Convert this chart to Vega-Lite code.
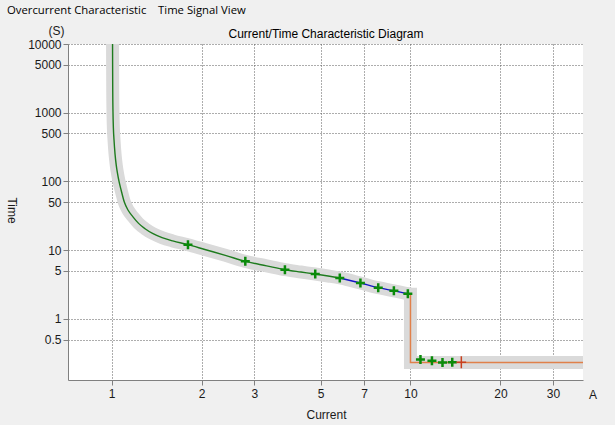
{
  "$schema": "https://vega.github.io/schema/vega-lite/v6.json",
  "width": 515,
  "height": 336,
  "autosize": {"type": "none"},
  "padding": {"left": 68, "top": 44, "right": 32, "bottom": 45},
  "background": "#f0f0f0",
  "config": {
    "view": {"stroke": null, "fill": "#ffffff"},
    "font": "Liberation Sans",
    "axis": {"labelFont": "Liberation Sans", "titleFont": "Liberation Sans", "labelFontSize": 12, "titleFontSize": 12, "titleFontWeight": "normal", "labelColor": "#1a1a1a", "titleColor": "#1a1a1a"}
  },
  "title": {
    "text": "Overcurrent Characteristic\u00a0\u00a0\u00a0\u00a0Time Signal View",
    "anchor": "start",
    "frame": "group",
    "dx": -61,
    "offset": 8,
    "font": "Open Sans",
    "fontSize": 11.3,
    "fontWeight": "normal",
    "color": "#000000"
  },
  "datasets": {
    "curve": [
      {"I": 1.006, "t": 20000, "seg": "green"},
      {"I": 1.007, "t": 5000, "seg": "green"},
      {"I": 1.008, "t": 2000, "seg": "green"},
      {"I": 1.010, "t": 1000, "seg": "green"},
      {"I": 1.013, "t": 600, "seg": "green"},
      {"I": 1.018, "t": 400, "seg": "green"},
      {"I": 1.026, "t": 250, "seg": "green"},
      {"I": 1.036, "t": 170, "seg": "green"},
      {"I": 1.046, "t": 130, "seg": "green"},
      {"I": 1.058, "t": 100, "seg": "green"},
      {"I": 1.075, "t": 75, "seg": "green"},
      {"I": 1.102, "t": 50, "seg": "green"},
      {"I": 1.135, "t": 38, "seg": "green"},
      {"I": 1.178, "t": 30.5, "seg": "green"},
      {"I": 1.23, "t": 24.5, "seg": "green"},
      {"I": 1.293, "t": 20.5, "seg": "green"},
      {"I": 1.37, "t": 17.5, "seg": "green"},
      {"I": 1.474, "t": 15.2, "seg": "green"},
      {"I": 1.6, "t": 13.6, "seg": "green"},
      {"I": 1.8, "t": 12.0, "seg": "green"},
      {"I": 2.05, "t": 10.2, "seg": "green"},
      {"I": 2.4, "t": 8.4, "seg": "green"},
      {"I": 2.8, "t": 6.86, "seg": "green"},
      {"I": 3.3, "t": 5.9, "seg": "green"},
      {"I": 3.8, "t": 5.19, "seg": "green"},
      {"I": 4.3, "t": 4.8, "seg": "green"},
      {"I": 4.8, "t": 4.49, "seg": "green"},
      {"I": 5.3, "t": 4.2, "seg": "green"},
      {"I": 5.8, "t": 3.93, "seg": "green"},
      {"I": 5.8, "t": 3.93, "seg": "blue"},
      {"I": 6.8, "t": 3.32, "seg": "blue"},
      {"I": 7.8, "t": 2.84, "seg": "blue"},
      {"I": 8.8, "t": 2.56, "seg": "blue"},
      {"I": 9.8, "t": 2.32, "seg": "blue"},
      {"I": 10.0, "t": 2.28, "seg": "blue"}
    ],
    "trip": [
      {"I": 10.0, "t": 2.28, "i": 0},
      {"I": 10.0, "t": 0.232, "i": 1},
      {"I": 45, "t": 0.232, "i": 2}
    ],
    "tests": [
      {"I": 1.8, "t": 12.0},
      {"I": 2.8, "t": 6.86},
      {"I": 3.8, "t": 5.19},
      {"I": 4.8, "t": 4.49},
      {"I": 5.8, "t": 3.93},
      {"I": 6.8, "t": 3.32},
      {"I": 7.8, "t": 2.84},
      {"I": 8.8, "t": 2.56},
      {"I": 9.8, "t": 2.32},
      {"I": 10.8, "t": 0.255},
      {"I": 11.8, "t": 0.245},
      {"I": 12.8, "t": 0.232},
      {"I": 13.8, "t": 0.233}
    ],
    "tripPoint": [
      {"I": 14.8, "t": 0.233}
    ]
  },
  "layer": [
    {
      "data": {"name": "curve"},
      "transform": [{"filter": "!(datum.seg == 'blue' && datum.I == 5.8)"}],
      "mark": {"type": "line", "clip": true, "interpolate": "monotone", "strokeWidth": 13, "color": "#dadada", "strokeCap": "butt"},
      "encoding": {
        "x": {
          "field": "I", "type": "quantitative",
          "scale": {"type": "log", "domain": [0.714, 37.8], "nice": false},
          "axis": {
            "orient": "bottom", "values": [1, 2, 3, 5, 7, 10, 20, 30], "format": "~g",
            "title": "Current", "titleX": 258, "titleY": 34, "titleBaseline": "middle", "titleAlign": "center",
            "grid": true, "gridDash": [1, 2], "gridColor": "#5a5a5a", "gridOpacity": 1,
            "domainColor": "#808080", "tickColor": "#808080", "tickSize": 5, "labelPadding": 3,
            "labelFlush": false, "labelOverlap": false
          }
        },
        "y": {
          "field": "t", "type": "quantitative",
          "scale": {"type": "log", "domain": [0.1287, 10000], "nice": false},
          "axis": {
            "orient": "left", "values": [0.5, 1, 5, 10, 50, 100, 500, 1000, 5000, 10000], "format": "~g",
            "title": "Time", "titleAngle": 90, "titleX": -57, "titleY": 166, "titleBaseline": "middle", "titleAlign": "center",
            "grid": true, "gridDash": [1, 2], "gridColor": "#5a5a5a", "gridOpacity": 1,
            "domainColor": "#808080", "tickColor": "#808080", "tickSize": 5, "labelPadding": 2,
            "labelOverlap": false
          }
        }
      }
    },
    {
      "data": {"name": "trip"},
      "mark": {"type": "line", "clip": true, "strokeWidth": 13, "color": "#dadada", "strokeCap": "square", "strokeJoin": "miter"},
      "encoding": {
        "x": {"field": "I", "type": "quantitative", "scale": {"type": "log", "domain": [0.714, 37.8], "nice": false}, "axis": null},
        "y": {"field": "t", "type": "quantitative", "scale": {"type": "log", "domain": [0.1287, 10000], "nice": false}, "axis": null},
        "order": {"field": "i"}
      }
    },
    {
      "data": {"name": "curve"},
      "mark": {"type": "line", "clip": true, "interpolate": "monotone", "strokeWidth": 1.4},
      "encoding": {
        "x": {"field": "I", "type": "quantitative", "scale": {"type": "log", "domain": [0.714, 37.8], "nice": false}, "axis": null},
        "y": {"field": "t", "type": "quantitative", "scale": {"type": "log", "domain": [0.1287, 10000], "nice": false}, "axis": null},
        "color": {"field": "seg", "type": "nominal", "scale": {"domain": ["green", "blue"], "range": ["#1e7b1e", "#1414c8"]}, "legend": null}
      }
    },
    {
      "data": {"name": "trip"},
      "mark": {"type": "line", "clip": true, "strokeWidth": 1.5, "color": "#e0804a"},
      "encoding": {
        "x": {"field": "I", "type": "quantitative", "scale": {"type": "log", "domain": [0.714, 37.8], "nice": false}, "axis": null},
        "y": {"field": "t", "type": "quantitative", "scale": {"type": "log", "domain": [0.1287, 10000], "nice": false}, "axis": null},
        "order": {"field": "i"}
      }
    },
    {
      "data": {"name": "tests"},
      "mark": {"type": "point", "shape": "M-1,0L1,0M0,-1L0,1", "filled": false, "size": 81, "strokeWidth": 2.5, "color": "#0a8a0a", "opacity": 1},
      "encoding": {
        "x": {"field": "I", "type": "quantitative", "scale": {"type": "log", "domain": [0.714, 37.8], "nice": false}, "axis": null},
        "y": {"field": "t", "type": "quantitative", "scale": {"type": "log", "domain": [0.1287, 10000], "nice": false}, "axis": null}
      }
    },
    {
      "data": {"name": "tripPoint"},
      "mark": {"type": "point", "shape": "M-0.8,0L0.8,0M0,-1L0,1", "filled": false, "size": 144, "strokeWidth": 1.5, "color": "#c8401e", "opacity": 1},
      "encoding": {
        "x": {"field": "I", "type": "quantitative", "scale": {"type": "log", "domain": [0.714, 37.8], "nice": false}, "axis": null},
        "y": {"field": "t", "type": "quantitative", "scale": {"type": "log", "domain": [0.1287, 10000], "nice": false}, "axis": null}
      }
    },
    {
      "data": {"values": [{"unit": "A"}]},
      "mark": {"type": "text", "dx": 10, "dy": 15, "fontSize": 12, "font": "Liberation Sans", "color": "#1a1a1a", "align": "center", "baseline": "middle"},
      "encoding": {
        "x": {
          "datum": 37.8, "type": "quantitative",
          "scale": {"type": "log", "domain": [0.714, 37.8], "nice": false},
          "axis": {
            "orient": "top", "labels": false, "ticks": false, "domain": false, "grid": false,
            "title": "Current/Time Characteristic Diagram", "titleX": 257.5, "titleY": -11,
            "titleAlign": "center", "titleBaseline": "middle", "titleColor": "#000000"
          }
        },
        "y": {
          "datum": 0.1287, "type": "quantitative",
          "scale": {"type": "log", "domain": [0.1287, 10000], "nice": false},
          "axis": {
            "orient": "right", "labels": false, "ticks": false, "domain": false, "grid": false,
            "title": "(S)", "titleAngle": 0, "titleX": -527, "titleY": -14,
            "titleAlign": "center", "titleBaseline": "middle"
          }
        },
        "text": {"field": "unit", "type": "nominal"}
      }
    }
  ],
  "resolve": {"axis": {"x": "independent", "y": "independent"}}
}
